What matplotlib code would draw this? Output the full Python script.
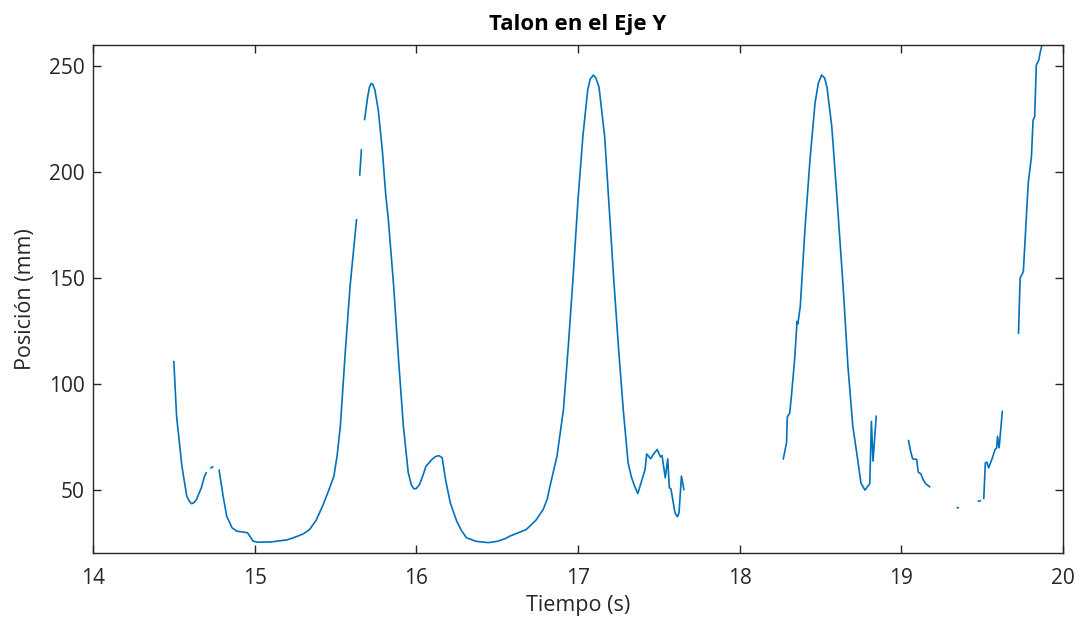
import numpy as np
import matplotlib
matplotlib.use("Agg")
import matplotlib.pyplot as plt

# --- data: heel Y position, segments separated by gaps (tracking losses) ---
seg_a_t = [14.50, 14.517, 14.55, 14.58, 14.60, 14.61, 14.625, 14.64, 14.67, 14.69, 14.70]
seg_a_y = [110.4, 84.6, 61.0, 46.8, 44.0, 43.3, 43.8, 45.3, 50.8, 56.3, 57.9]

seg_b_t = [14.73, 14.74]
seg_b_y = [60.2, 60.7]

seg_c_t = [14.78, 14.805, 14.827, 14.86, 14.89, 14.955, 14.97, 14.99, 15.02,
           15.10, 15.20, 15.24, 15.30, 15.34, 15.38, 15.42, 15.46, 15.49,
           15.51, 15.53, 15.56, 15.59, 15.63]
seg_c_y = [59.1, 46.8, 37.4, 31.9, 30.3, 29.6, 28.0, 25.6, 25.1,
           25.2, 26.2, 27.2, 29.0, 31.1, 35.5, 42.1, 50.0, 56.3,
           66.0, 79.9, 114.5, 145.9, 177.4]

seg_d_t = [15.65, 15.66]
seg_d_y = [198.6, 210.4]

seg_e_t = [15.68, 15.70, 15.71, 15.72, 15.73, 15.744, 15.765, 15.79, 15.81, 15.827, 15.86,
           15.89, 15.92, 15.95, 15.97, 15.985, 16.00, 16.02, 16.04, 16.06, 16.10, 16.12,
           16.14, 16.16, 16.18, 16.21, 16.25, 16.28, 16.31, 16.37, 16.445, 16.50,
           16.55, 16.58, 16.68, 16.74, 16.785, 16.81, 16.827, 16.87, 16.91, 16.94,
           16.97, 17.00, 17.03, 17.06, 17.075, 17.095, 17.11, 17.13, 17.165, 17.19,
           17.22, 17.25, 17.28, 17.31, 17.33, 17.35, 17.37, 17.39, 17.415, 17.425,
           17.45, 17.465, 17.49, 17.51, 17.52, 17.54, 17.555, 17.565, 17.575, 17.60,
           17.615, 17.625, 17.64, 17.655]
seg_e_y = [224.8, 236.0, 240.0, 241.8, 241.5, 238.7, 229.0, 210.0, 190.0, 177.4, 145.9,
           111.3, 79.9, 57.9, 52.0, 50.3, 50.5, 52.4, 56.5, 61.0, 64.5, 65.6,
           66.0, 65.0, 55.0, 43.7, 35.0, 30.5, 27.2, 25.5, 24.9, 25.5,
           26.8, 28.0, 31.1, 35.5, 40.6, 45.5, 51.6, 65.7, 87.7, 117.6,
           150.6, 186.8, 216.7, 238.7, 243.8, 245.8, 244.5, 240.2, 216.7, 186.8,
           150.6, 117.6, 87.7, 62.6, 56.0, 51.6, 48.1, 53.1, 59.4, 66.8,
           64.5, 66.5, 68.9, 65.4, 66.0, 55.5, 64.5, 50.8, 50.3, 39.0,
           37.1, 39.0, 56.3, 50.0]

seg_f_t = [18.27, 18.29, 18.295, 18.31, 18.32, 18.34, 18.355, 18.36, 18.375,
           18.405, 18.435, 18.466, 18.487, 18.507, 18.525, 18.54, 18.57, 18.60,
           18.64, 18.67, 18.70, 18.73, 18.75, 18.775, 18.805, 18.815, 18.825, 18.845]
seg_f_y = [64.5, 72.0, 84.3, 86.2, 94.0, 111.3, 129.4, 128.3, 136.5,
           174.2, 205.7, 232.4, 242.0, 245.8, 244.5, 240.2, 221.4, 190.0,
           145.9, 108.0, 79.9, 64.2, 53.1, 49.7, 52.8, 82.2, 63.4, 84.6]

seg_g_t = [19.045, 19.055, 19.07, 19.095, 19.105, 19.12, 19.135, 19.15, 19.175]
seg_g_y = [73.1, 68.9, 64.5, 64.2, 58.2, 57.5, 54.7, 52.8, 51.3]

seg_h_t = [19.347, 19.352]
seg_h_y = [41.4, 41.4]

seg_i_t = [19.477, 19.488]
seg_i_y = [44.5, 44.7]

seg_j_t = [19.51, 19.52, 19.53, 19.54, 19.56, 19.58, 19.59, 19.595, 19.605, 19.625]
seg_j_y = [45.8, 62.6, 62.9, 60.2, 64.2, 68.9, 69.7, 75.1, 69.7, 86.9]

seg_k_t = [19.725, 19.735, 19.755, 19.785, 19.805, 19.815, 19.825, 19.835,
           19.85, 19.86, 19.87]
seg_k_y = [123.9, 149.9, 153.0, 194.7, 207.2, 224.5, 226.1, 250.5,
           252.8, 256.8, 260.0]

segments = [(seg_a_t, seg_a_y), (seg_b_t, seg_b_y), (seg_c_t, seg_c_y),
            (seg_d_t, seg_d_y), (seg_e_t, seg_e_y), (seg_f_t, seg_f_y),
            (seg_g_t, seg_g_y), (seg_h_t, seg_h_y), (seg_i_t, seg_i_y),
            (seg_j_t, seg_j_y), (seg_k_t, seg_k_y)]

x_ticks = [14, 15, 16, 17, 18, 19, 20]
y_ticks = [50, 100, 150, 200, 250]

# join segments with NaN gaps
t_all, y_all = [], []
for ts, ys in segments:
    t_all += list(ts) + [np.nan]
    y_all += list(ys) + [np.nan]

plt.rcParams['font.family'] = ['Open Sans', 'DejaVu Sans']
dark = '#262626'

fig = plt.figure(figsize=(10.84, 6.25), dpi=100)
ax = fig.add_axes([0.0858, 0.1152, 0.8948, 0.8128])
ax.plot(t_all, y_all, color='#0072BD', lw=1.2, solid_joinstyle='round')

ax.set_xlim(14, 20)
ax.set_ylim(20, 260)
ax.set_xticks(x_ticks)
ax.set_yticks(y_ticks)
ax.tick_params(direction='in', top=True, right=True, length=6, width=1.0,
               colors=dark, labelsize=15)
ax.tick_params(axis='x', pad=11)
ax.tick_params(axis='y', pad=6)
for s in ax.spines.values():
    s.set_color(dark)
    s.set_linewidth(1.0)

ax.set_xlabel('Tiempo (s)', fontsize=15.5, color=dark, labelpad=4)
ax.set_ylabel('Posición (mm)', fontsize=15.5, color=dark, labelpad=9)
ax.set_title('Talon en el Eje Y', fontsize=16, fontweight='bold', color='black', pad=11)

fig.savefig('out.png', dpi=100)
